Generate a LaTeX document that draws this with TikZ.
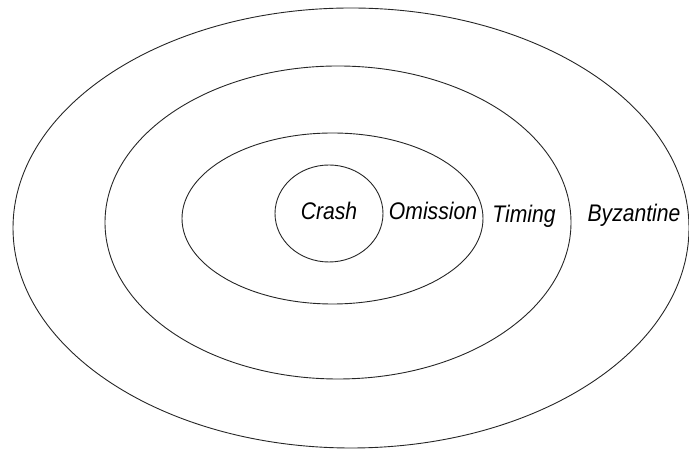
\documentclass[tikz,border=0pt]{standalone}
\usepackage{fontspec}
\setmainfont{Liberation Sans}[FakeStretch=0.88]
\tikzset{
  ring/.style={draw=black!85, line width=0.9pt},
  lbl/.style={font=\fontsize{24}{24}\selectfont\itshape, anchor=base, inner sep=0pt}
}
\begin{document}
\begin{tikzpicture}[x=1pt,y=1pt]
\useasboundingbox (0,0) rectangle (689,449);
% y_tikz = 449 - y_image
\draw[ring] (351,221) ellipse [x radius=338, y radius=220];
\draw[ring] (338,226.5) ellipse [x radius=233, y radius=156.5];
\draw[ring] (332.5,230.5) ellipse [x radius=150.5, y radius=85.5];
\draw[ring] (329,235.5) ellipse [x radius=54, y radius=48.5];
\node[lbl] (crash) at (329,229) {Crash};
\node[lbl] (omission) at (433,229) {Omission};
\node[lbl] (timing) at (524,226) {Timing};
\node[lbl] (byz) at (634,227) {Byzantine};
\end{tikzpicture}
\end{document}
